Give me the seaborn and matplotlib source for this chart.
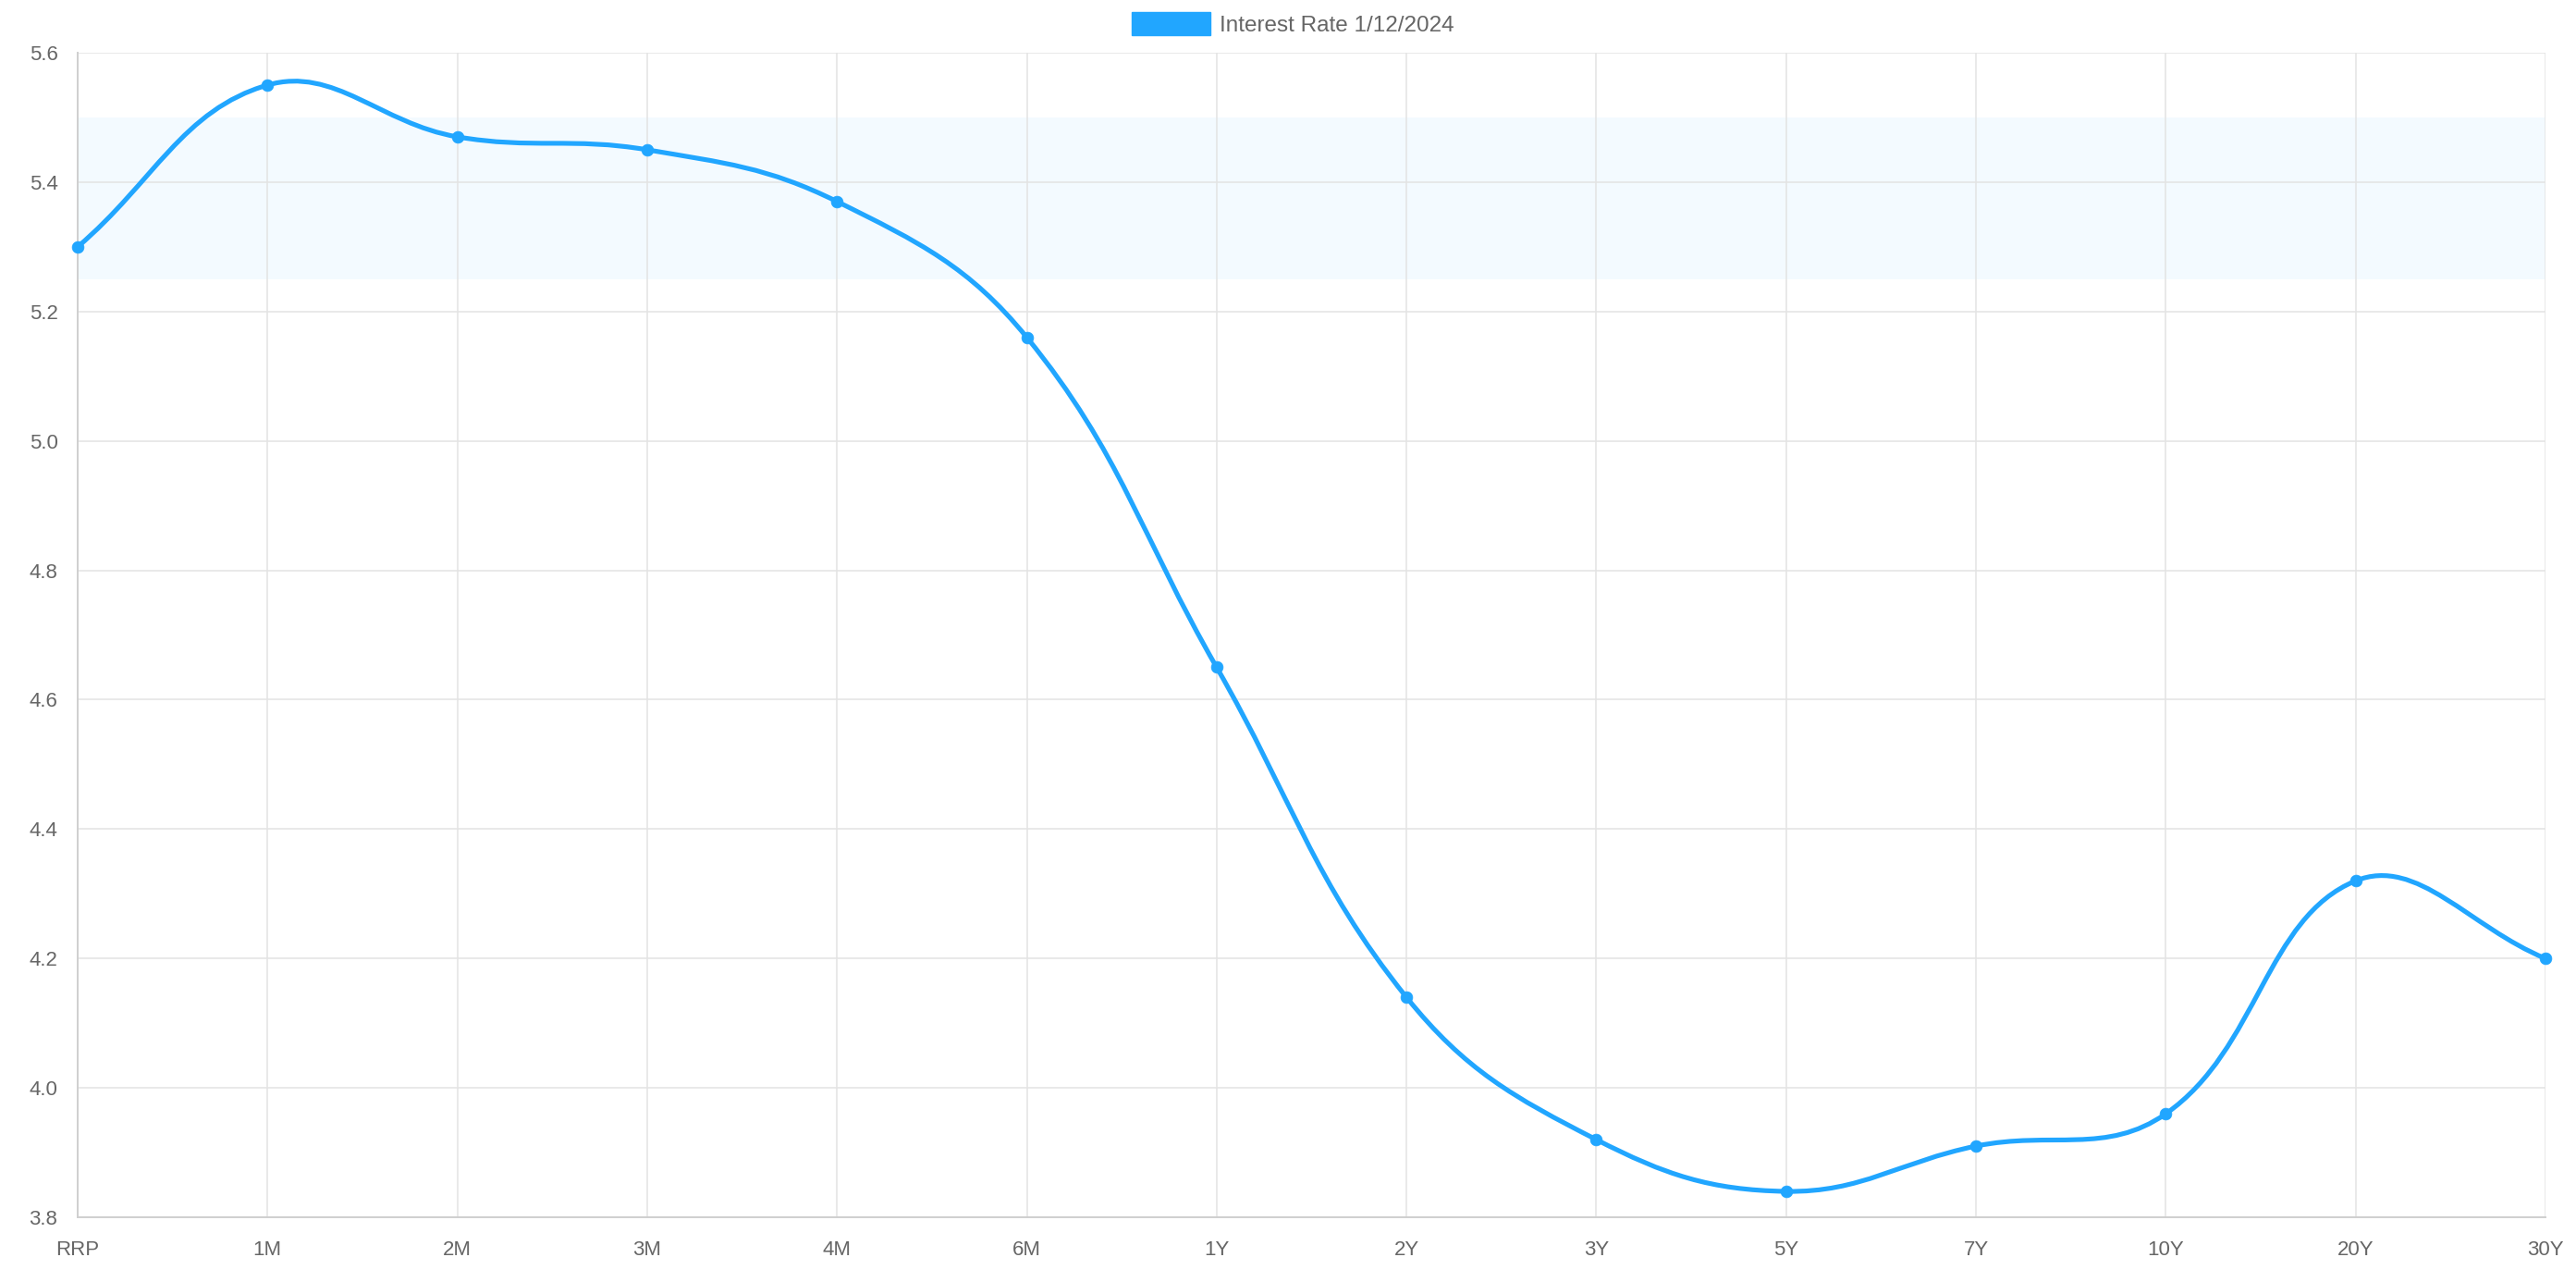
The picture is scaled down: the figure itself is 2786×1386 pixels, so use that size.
"""
Крива дохідності: Interest Rate 1/12/2024, збереження PNG
"""

import matplotlib
matplotlib.use("Agg")

import matplotlib.pyplot as plt
from matplotlib.path import Path
from matplotlib.patches import PathPatch, Patch
import seaborn as sns
import pandas as pd
import numpy as np

# дані з графіка
TERMS = ["RRP", "1M", "2M", "3M", "4M", "6M", "1Y", "2Y", "3Y", "5Y",
         "7Y", "10Y", "20Y", "30Y"]
RATES = [5.30, 5.55, 5.47, 5.45, 5.37, 5.16, 4.65, 4.14, 3.92, 3.84,
         3.91, 3.96, 4.32, 4.20]
Y_TICKS = [3.8, 4.0, 4.2, 4.4, 4.6, 4.8, 5.0, 5.2, 5.4, 5.6]
BAND = (5.25, 5.50)
SERIES_LABEL = "Interest Rate 1/12/2024"

LINE_COLOR = "#21a6ff"
BAND_COLOR = "#f3faff"
GRID_COLOR = "#e3e3e3"
AXIS_COLOR = "#cfcfcf"
TEXT_COLOR = "#666666"

W, H = 2786, 1386
DPI = 100

sns.set_theme(style="white")
plt.rcParams.update({"font.family": ["Liberation Sans", "DejaVu Sans"]})


def bezier_controls(xs, ys, sx, sy, tension=0.4):
    """Контрольні точки як у Chart.js (splineCurve), відстані в пікселях."""
    n = len(xs)
    prev_cp, next_cp = [], []
    for i in range(n):
        p = (xs[max(i - 1, 0)], ys[max(i - 1, 0)])
        c = (xs[i], ys[i])
        nx = (xs[min(i + 1, n - 1)], ys[min(i + 1, n - 1)])
        d01 = np.hypot((c[0] - p[0]) * sx, (c[1] - p[1]) * sy)
        d12 = np.hypot((nx[0] - c[0]) * sx, (nx[1] - c[1]) * sy)
        tot = d01 + d12
        s01 = d01 / tot if tot else 0
        s12 = d12 / tot if tot else 0
        fa, fb = tension * s01, tension * s12
        prev_cp.append((c[0] - fa * (nx[0] - p[0]), c[1] - fa * (nx[1] - p[1])))
        next_cp.append((c[0] + fb * (nx[0] - p[0]), c[1] + fb * (nx[1] - p[1])))
    return prev_cp, next_cp


def main():
    df = pd.DataFrame({"term": TERMS, "rate": RATES})
    df["pos"] = range(len(df))

    fig = plt.figure(figsize=(W / DPI, H / DPI), dpi=DPI)
    left, right = 84 / W, 2753 / W
    bottom, top = 1 - 1316 / H, 1 - 57 / H
    ax = fig.add_axes([left, bottom, right - left, top - bottom])

    ax.set_xlim(0, len(TERMS) - 1)
    ax.set_ylim(Y_TICKS[0], Y_TICKS[-1])

    # смуга цільового діапазону
    ax.axhspan(BAND[0], BAND[1], color=BAND_COLOR, zorder=0, lw=0)

    # плавна лінія (кубічні криві Безьє)
    sx = (2753 - 84) / (len(TERMS) - 1)
    sy = 1259 / (Y_TICKS[-1] - Y_TICKS[0])
    xs = df["pos"].tolist()
    ys = df["rate"].tolist()
    prev_cp, next_cp = bezier_controls(xs, ys, sx, sy)
    verts = [(xs[0], ys[0])]
    codes = [Path.MOVETO]
    for i in range(len(xs) - 1):
        verts += [next_cp[i], prev_cp[i + 1], (xs[i + 1], ys[i + 1])]
        codes += [Path.CURVE4] * 3
    ax.add_patch(PathPatch(Path(verts, codes), fill=False, edgecolor=LINE_COLOR,
                           lw=3.7, capstyle="round", joinstyle="round",
                           zorder=3, clip_on=False))

    sns.scatterplot(data=df, x="pos", y="rate", ax=ax, color=LINE_COLOR,
                    s=85, edgecolor=LINE_COLOR, linewidth=0.5, zorder=4,
                    clip_on=False, legend=False)

    # осі та сітка
    ax.set_xticks(range(len(TERMS)))
    ax.set_xticklabels(TERMS)
    ax.set_yticks(Y_TICKS)
    ax.set_yticklabels([f"{v:.1f}" for v in Y_TICKS])
    ax.grid(True, color=GRID_COLOR, lw=1.1, zorder=1)
    ax.set_axisbelow(True)
    ax.set_xlabel("")
    ax.set_ylabel("")
    for side in ("top", "right"):
        ax.spines[side].set_visible(False)
    for side in ("left", "bottom"):
        ax.spines[side].set_color(AXIS_COLOR)
        ax.spines[side].set_linewidth(1.4)
    ax.tick_params(axis="both", colors=GRID_COLOR, labelcolor=TEXT_COLOR,
                   labelsize=16, width=1.1)
    ax.tick_params(axis="y", length=11.5, pad=4)
    ax.tick_params(axis="x", length=11, pad=7)

    # легенда
    handle = Patch(facecolor=LINE_COLOR, edgecolor=LINE_COLOR)
    fig.legend([handle], [SERIES_LABEL], loc="center",
               bbox_to_anchor=(0.502, 1 - 26 / H), frameon=False,
               fontsize=17.5, labelcolor=TEXT_COLOR, handlelength=3.5,
               handleheight=1.2, handletextpad=0.4, borderaxespad=0)

    fig.savefig("out.png", dpi=DPI)
    plt.close(fig)


if __name__ == "__main__":
    main()
